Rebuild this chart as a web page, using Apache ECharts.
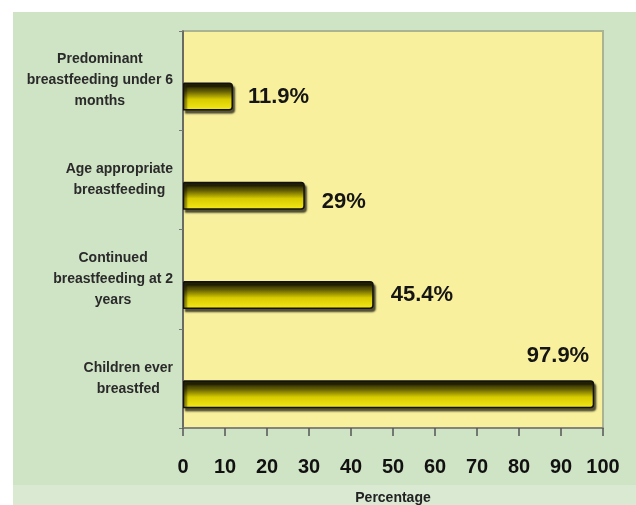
<!DOCTYPE html>
<html>
<head>
<meta charset="utf-8">
<script src="https://cdn.jsdelivr.net/npm/echarts@6/dist/echarts.min.js"></script>
<style>
  html, body { margin: 0; padding: 0; background: #ffffff; }
  #chart {
    position: absolute; left: 13px; top: 12px; width: 623px; height: 493px;
    background: linear-gradient(to bottom, #cfe3c5 0px, #cfe3c5 473px, #d9e9d2 473px, #d9e9d2 100%);
  }
</style>
</head>
<body>
<div id="chart"></div>
<script>
// Breastfeeding indicators, top to bottom
const categories = [
  'Predominant\nbreastfeeding under 6\nmonths',
  'Age appropriate\nbreastfeeding',
  'Continued\nbreastfeeding at 2\nyears',
  'Children ever\nbreastfed'
];
const percentages = [11.9, 29, 45.4, 97.9];
const xTicks = { min: 0, max: 100, interval: 10 };

const font = "'Liberation Sans', Arial, sans-serif";

// label placement for each bar (the longest bar carries its label above its end)
const labelStyles = [
  { position: 'right', distance: 15 },
  { position: 'right', distance: 17, offset: [0, 6] },
  { position: 'right', distance: 17 },
  { position: ['100%', -24], align: 'right', verticalAlign: 'middle', offset: [-5, 0] }
];

const barFill = new echarts.graphic.LinearGradient(0, 0, 0, 1, [
  { offset: 0, color: '#141304' },
  { offset: 0.3, color: '#5e5904' },
  { offset: 0.6, color: '#d8cc00' },
  { offset: 1, color: '#f5e91c' }
]);

const chart = echarts.init(document.getElementById('chart'), null, { renderer: 'canvas' });
chart.setOption({
  backgroundColor: 'transparent',
  animation: false,
  grid: {
    left: 170, right: 33, top: 19, bottom: 77,
    outerBoundsMode: 'none',
    containLabel: false,
    show: true,
    backgroundColor: '#f8f09c',
    borderColor: '#aab392',
    borderWidth: 2
  },
  xAxis: {
    type: 'value',
    min: xTicks.min, max: xTicks.max, interval: xTicks.interval,
    name: 'Percentage',
    nameLocation: 'middle',
    nameGap: 63,
    nameTextStyle: { fontFamily: font, fontWeight: 'bold', fontSize: 14, color: '#222' },
    axisLine: { show: true, lineStyle: { color: '#777', width: 1.5 } },
    axisTick: { show: true, length: 8, lineStyle: { color: '#555', width: 1.5 } },
    splitLine: { show: false },
    axisLabel: {
      margin: 29,
      fontFamily: font, fontWeight: 'bold', fontSize: 20, color: '#111'
    }
  },
  yAxis: {
    type: 'category',
    inverse: true,
    data: categories,
    axisLine: { show: true, lineStyle: { color: '#555', width: 1.5 } },
    axisTick: { show: true, length: 4, lineStyle: { color: '#777' } },
    axisLabel: {
      margin: 10,
      align: 'right',
      formatter: v => v.split('\n').map(s => '{c|' + s + '}').join('\n'),
      rich: {
        c: {
          align: 'center',
          fontFamily: font, fontWeight: 'bold', fontSize: 14,
          lineHeight: 21, color: '#2a2a2a'
        }
      }
    }
  },
  series: [
    {
      // spacer series that pushes the visible bars below the band centre
      type: 'bar',
      silent: true,
      barWidth: 28,
      barGap: '14%',
      data: categories.map(() => null),
      itemStyle: { color: 'transparent' }
    },
    {
      type: 'bar',
      barWidth: 28,
      barGap: '14%',
      data: percentages.map((v, i) => ({ value: v, label: labelStyles[i] })),
      itemStyle: {
        color: barFill,
        borderColor: '#111',
        borderWidth: 1.5,
        borderRadius: [0, 3, 3, 0],
        shadowColor: 'rgba(0,0,0,0.65)',
        shadowBlur: 2,
        shadowOffsetX: 2,
        shadowOffsetY: 3
      },
      label: {
        show: true,
        formatter: '{c}%',
        fontFamily: font, fontWeight: 'bold', fontSize: 22, color: '#151515'
      }
    }
  ]
});
</script>
</body>
</html>
